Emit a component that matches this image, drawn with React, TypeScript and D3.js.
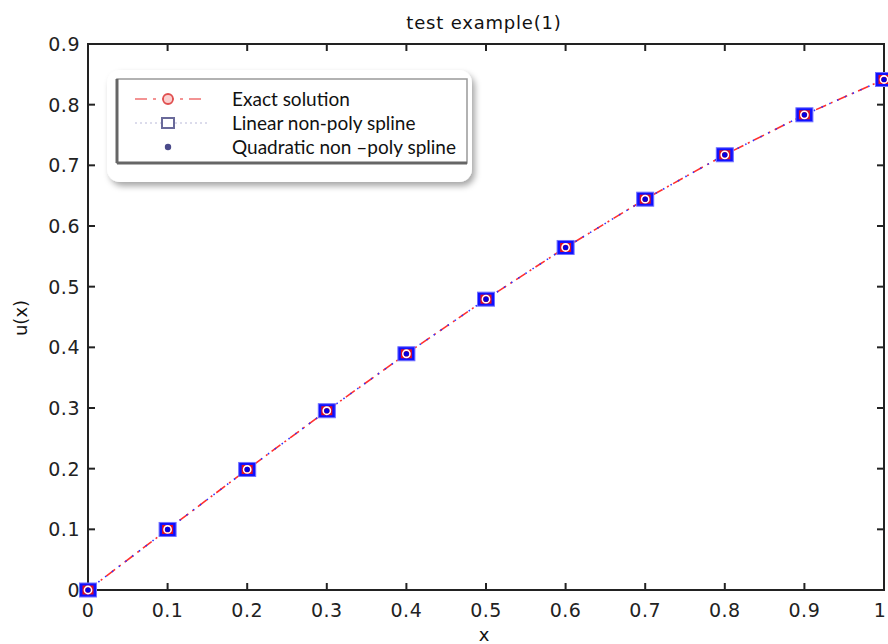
import React, { useEffect, useRef } from 'react';
import * as d3 from 'd3';

// nodes and solutions
const xNodes = [0, 0.1, 0.2, 0.3, 0.4, 0.5, 0.6, 0.7, 0.8, 0.9, 1.0];
const exactSolution = [0, 0.0998, 0.1987, 0.2955, 0.3894, 0.4794, 0.5646, 0.6442, 0.7174, 0.7833, 0.8415];
const linearSpline = [0, 0.0998, 0.1987, 0.2955, 0.3894, 0.4794, 0.5646, 0.6442, 0.7174, 0.7833, 0.8415];
const quadraticSpline = [0, 0.0998, 0.1987, 0.2955, 0.3894, 0.4794, 0.5646, 0.6442, 0.7174, 0.7833, 0.8415];
const xTicks = [0, 0.1, 0.2, 0.3, 0.4, 0.5, 0.6, 0.7, 0.8, 0.9, 1];
const yTicks = [0, 0.1, 0.2, 0.3, 0.4, 0.5, 0.6, 0.7, 0.8, 0.9];
const legendLabels = ['Exact solution', 'Linear non-poly spline', 'Quadratic non \u2013poly spline'];

const W = 888;
const H = 644;

const App: React.FC = () => {
  const ref = useRef<SVGSVGElement | null>(null);

  useEffect(() => {
    const svg = d3.select(ref.current);
    svg.selectAll('*').remove();

    const left = 88, right = 884, top = 44, bottom = 590;
    const x = d3.scaleLinear().domain([0, 1]).range([left, right]);
    const y = d3.scaleLinear().domain([0, 0.9]).range([bottom, top]);
    const axisFont = '"DejaVu Sans", sans-serif';

    const defs = svg.append('defs');
    const f = defs.append('filter').attr('id', 'shadow').attr('x', '-10%').attr('y', '-20%').attr('width', '125%').attr('height', '150%');
    f.append('feDropShadow').attr('dx', 3).attr('dy', 4).attr('stdDeviation', 3).attr('flood-color', '#000').attr('flood-opacity', 0.35);

    // frame with inward ticks on all four sides (matlab box)
    svg.append('rect')
      .attr('x', left).attr('y', top)
      .attr('width', right - left).attr('height', bottom - top)
      .attr('fill', 'none').attr('stroke', '#222').attr('stroke-width', 2);

    const tl = 7;
    const g = svg.append('g').attr('stroke', '#222').attr('stroke-width', 2);
    xTicks.forEach(t => {
      g.append('line').attr('x1', x(t)).attr('x2', x(t)).attr('y1', bottom).attr('y2', bottom - tl);
      g.append('line').attr('x1', x(t)).attr('x2', x(t)).attr('y1', top).attr('y2', top + tl);
    });
    yTicks.forEach(t => {
      g.append('line').attr('x1', left).attr('x2', left + tl).attr('y1', y(t)).attr('y2', y(t));
      g.append('line').attr('x1', right).attr('x2', right - tl).attr('y1', y(t)).attr('y2', y(t));
    });

    svg.append('g').selectAll('text').data(xTicks).join('text')
      .attr('x', d => Math.min(x(d), 880)).attr('y', 617)
      .attr('text-anchor', 'middle')
      .attr('font-family', axisFont).attr('font-size', 19).attr('letter-spacing', 0.5)
      .attr('fill', '#222')
      .text(d => d3.format('~g')(d));

    svg.append('g').selectAll('text').data(yTicks).join('text')
      .attr('x', left - 8).attr('y', d => y(d) + 7)
      .attr('text-anchor', 'end')
      .attr('font-family', axisFont).attr('font-size', 19).attr('letter-spacing', 0.5)
      .attr('fill', '#222')
      .text(d => d3.format('~g')(d));

    svg.append('text').attr('x', 484).attr('y', 29).attr('text-anchor', 'middle')
      .attr('font-family', axisFont).attr('font-size', 18).attr('letter-spacing', 0.8).attr('fill', '#111')
      .text('test example(1)');
    svg.append('text').attr('x', 484).attr('y', 641).attr('text-anchor', 'middle')
      .attr('font-family', axisFont).attr('font-size', 18).attr('fill', '#111')
      .text('x');
    svg.append('text')
      .attr('transform', `translate(27,318) rotate(-90)`)
      .attr('text-anchor', 'middle')
      .attr('font-family', axisFont).attr('font-size', 18).attr('fill', '#111')
      .text('u(x)');

    // lines
    const curve = d3.line<number>().x((_, i) => x(xNodes[i])).y(d => y(d));
    svg.append('path').datum(exactSolution)
      .attr('d', curve)
      .attr('fill', 'none').attr('stroke', '#ff3030').attr('stroke-width', 1.6)
      .attr('stroke-dasharray', '11,5,2,5');
    svg.append('path').datum(linearSpline)
      .attr('d', curve)
      .attr('fill', 'none').attr('stroke', '#3030ff').attr('stroke-width', 1.6)
      .attr('stroke-dasharray', '1.5,7')
      .attr('stroke-dashoffset', 4);

    // markers
    const mk = svg.append('g');
    linearSpline.forEach((v, i) => {
      mk.append('rect')
        .attr('x', x(xNodes[i]) - 8.5).attr('y', y(v) - 7)
        .attr('width', 17).attr('height', 14)
        .attr('fill', '#1010ff').attr('stroke', '#7070ff').attr('stroke-width', 1);
    });
    exactSolution.forEach((v, i) => {
      mk.append('rect')
        .attr('x', x(xNodes[i]) - 5.5).attr('y', y(v) - 4.5)
        .attr('width', 11).attr('height', 9)
        .attr('fill', '#e01020');
      mk.append('circle')
        .attr('cx', x(xNodes[i])).attr('cy', y(v)).attr('r', 3.6)
        .attr('fill', 'none').attr('stroke', '#fff').attr('stroke-width', 1.6);
    });
    quadraticSpline.forEach((v, i) => {
      mk.append('circle')
        .attr('cx', x(xNodes[i])).attr('cy', y(v)).attr('r', 2.6)
        .attr('fill', '#0000e0');
    });

    // legend, pasted-in look
    const lg = svg.append('g');
    const lx = 107, ly = 70, lw = 365, lh = 112;
    lg.append('rect')
      .attr('x', lx).attr('y', ly).attr('width', lw).attr('height', lh)
      .attr('rx', 13).attr('fill', '#fff').attr('filter', 'url(#shadow)');
    lg.append('rect')
      .attr('x', lx + 10).attr('y', ly + 9).attr('width', lw - 15).attr('height', 84)
      .attr('fill', '#fff').attr('stroke', '#999').attr('stroke-width', 1.5);
    lg.append('line').attr('x1', lx + 10).attr('x2', lx + 10).attr('y1', ly + 9).attr('y2', ly + 93)
      .attr('stroke', '#666').attr('stroke-width', 3);
    lg.append('line').attr('x1', lx + 10).attr('x2', lx + lw - 5).attr('y1', ly + 93).attr('y2', ly + 93)
      .attr('stroke', '#666').attr('stroke-width', 3);

    const rowY = [99, 123, 147];
    const sx1 = 135, sx2 = 207, sc = 168;
    lg.append('line').attr('x1', sx1).attr('x2', sx2).attr('y1', rowY[0]).attr('y2', rowY[0])
      .attr('stroke', '#f07070').attr('stroke-width', 1.5).attr('stroke-dasharray', '12,6,3,6');
    lg.append('circle').attr('cx', sc).attr('cy', rowY[0]).attr('r', 5)
      .attr('fill', '#fbd0d0').attr('stroke', '#e05050').attr('stroke-width', 1.8);
    lg.append('line').attr('x1', sx1).attr('x2', sx2).attr('y1', rowY[1]).attr('y2', rowY[1])
      .attr('stroke', '#b8b8d8').attr('stroke-width', 1).attr('stroke-dasharray', '2,3');
    lg.append('rect').attr('x', sc - 6).attr('y', rowY[1] - 5).attr('width', 12).attr('height', 10)
      .attr('fill', '#fff').attr('stroke', '#6a6a9a').attr('stroke-width', 2);
    lg.append('circle').attr('cx', sc).attr('cy', rowY[2]).attr('r', 3.2)
      .attr('fill', '#4a4a8a');

    lg.selectAll('text.lab').data(legendLabels).join('text')
      .attr('class', 'lab')
      .attr('x', 232).attr('y', (_, i) => rowY[i] + 7)
      .attr('font-family', 'Lato, "Open Sans", sans-serif').attr('font-size', 19)
      .attr('fill', '#111')
      .text(d => d);
  }, []);

  return (
    <svg ref={ref} width={W} height={H}
      style={{ position: 'absolute', left: 0, top: 0, background: '#fff' }} />
  );
};

export default App;
